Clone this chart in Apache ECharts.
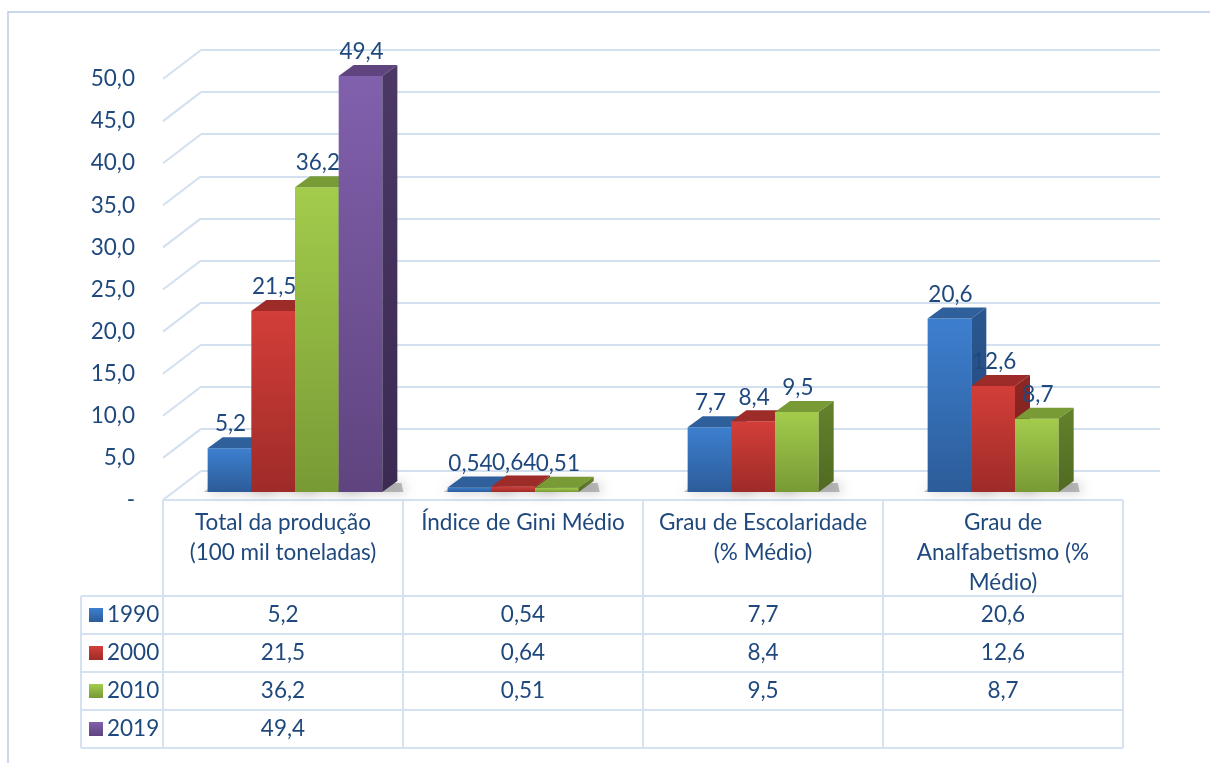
<!DOCTYPE html>
<html>
<head>
<meta charset="utf-8">
<script src="https://cdn.jsdelivr.net/npm/echarts@6/dist/echarts.min.js"></script>
<style>html,body{margin:0;padding:0;background:#fff}#c{width:1210px;height:763px}</style>
</head>
<body>
<div id="c"></div>
<script>
// ---- data ----
const categories = ['Total da produção\n(100 mil toneladas)', 'Índice de Gini Médio', 'Grau de Escolaridade\n(% Médio)', 'Grau de\nAnalfabetismo (%\nMédio)'];
const years = ['1990', '2000', '2010', '2019'];
const v1990 = [5.2, 0.54, 7.7, 20.6];
const v2000 = [21.5, 0.64, 8.4, 12.6];
const v2010 = [36.2, 0.51, 9.5, 8.7];
const v2019 = [49.4, null, null, null];
const yMin = 0, yMax = 50, yStep = 5;

const seriesValues = [v1990, v2000, v2010, v2019];
const TXT = '#1f497d';
const FONT = 'Lato';
const FS = 22.5;
const palette = [
  {front: ['#3d7fcf', '#2c5c99'], top: '#2f609c', side: ['#2a5790', '#22477a']},
  {front: ['#d33e39', '#9e2b28'], top: '#9d2b28', side: ['#8e2724', '#761f1d']},
  {front: ['#a3cc4c', '#789a35'], top: '#799b36', side: ['#64822c', '#506a22']},
  {front: ['#8160ad', '#5f447f'], top: '#5f4480', side: ['#4b3866', '#3b2a52']}
];
// layout
const GL = 163, GT = 79, GW = 960, GH = 421;
const WDX = 38, WDY = -29;   // wall depth
const FX = 12, FY = -8;      // bar front offset
const BDX = 15, BDY = -11;   // bar depth
const SLOT = 0.182;

function fmt(v) { return String(v).replace('.', ','); }

function barSeries(i) {
  const data = [];
  seriesValues[i].forEach((v, k) => { if (v != null) data.push([k, v]); });
  return {
    type: 'custom', name: years[i], xAxisIndex: 0, yAxisIndex: 0, z: 3,
    data: data,
    renderItem: function (params, api) {
      const idx = api.value(0), val = api.value(1);
      const base = api.coord([idx, 0]);
      const top = api.coord([idx, val]);
      const catW = api.size([1, 0])[0];
      const w = catW * SLOT;
      const x0 = base[0] - 2 * w + i * w + FX;
      const yb = base[1] + FY, yt = top[1] + FY;
      const c = palette[i];
      return {
        type: 'group',
        children: [
          {type: 'polygon', z2: -5, shape: {points: [[x0 - 4, yb], [x0 + w + BDX + 6, yb], [x0 + w + BDX + 4, yb + BDY + 2], [x0 + BDX - 6, yb + BDY + 2]]},
            style: {fill: 'rgba(80,80,80,0.35)', shadowBlur: 12, shadowColor: 'rgba(0,0,0,0.6)', shadowOffsetX: 2, shadowOffsetY: 0}},
          {type: 'rect', z2: 1, shape: {x: x0, y: yt, width: w, height: yb - yt},
            style: {fill: new echarts.graphic.LinearGradient(0, 0, 0, 1, [{offset: 0, color: c.front[0]}, {offset: 1, color: c.front[1]}])}},
          {type: 'polygon', z2: 1, shape: {points: [[x0, yt], [x0 + BDX, yt + BDY], [x0 + w + BDX, yt + BDY], [x0 + w, yt]]},
            style: {fill: c.top}},
          {type: 'polygon', z2: 1, shape: {points: [[x0 + w, yt], [x0 + w + BDX, yt + BDY], [x0 + w + BDX, yb + BDY], [x0 + w, yb]]},
            style: {fill: new echarts.graphic.LinearGradient(0, 0, 0, 1, [{offset: 0, color: c.side[0]}, {offset: 1, color: c.side[1]}])}},
          {type: 'text', z2: 100, style: {text: fmt(val), x: x0 + w / 2 + 1, y: yt - 24, align: 'center', verticalAlign: 'middle',
            fill: TXT, font: FS + 'px ' + FONT}}
        ]
      };
    }
  };
}

const ticks = [];
for (let v = yMin; v <= yMax; v += yStep) ticks.push([0, v]);

const chart = echarts.init(document.getElementById('c'), null, {renderer: 'canvas'});
const option = {
  animation: false,
  backgroundColor: '#fff',
  grid: [
    {left: GL, top: GT, width: GW, height: GH},
    {left: GL + WDX, top: GT + WDY, width: GW - 1, height: GH}
  ],
  xAxis: [
    {type: 'category', gridIndex: 0, data: categories, axisLine: {show: false}, axisTick: {show: false}, axisLabel: {show: false}},
    {type: 'category', gridIndex: 1, data: categories, axisLine: {show: false}, axisTick: {show: false}, axisLabel: {show: false}}
  ],
  yAxis: [
    {type: 'value', gridIndex: 0, min: yMin, max: yMax, interval: yStep, splitLine: {show: false},
      axisLine: {show: false}, axisTick: {show: false},
      axisLabel: {margin: 28, color: TXT, fontFamily: FONT, fontSize: FS,
        formatter: v => v === 0 ? '-' : v.toFixed(1).replace('.', ',')}},
    {type: 'value', gridIndex: 1, min: yMin, max: yMax, interval: yStep,
      splitLine: {show: true, lineStyle: {color: '#d3e0f0', width: 2}},
      axisLine: {show: false}, axisTick: {show: false}, axisLabel: {show: false}}
  ],
  series: [
    {
      type: 'custom', xAxisIndex: 0, yAxisIndex: 0, z: 1, silent: true, data: ticks,
      renderItem: function (params, api) {
        const p = api.coord([0, api.value(1)]);
        const x = params.coordSys.x;
        return {type: 'line', shape: {x1: x, y1: p[1], x2: x + WDX, y2: p[1] + WDY},
          style: {stroke: '#d3e0f0', lineWidth: 2}};
      }
    },
    barSeries(0), barSeries(1), barSeries(2), barSeries(3)
  ]
};
chart.setOption(option);

// ---- data table ----
const centers = categories.map((c, k) => chart.convertToPixel({xAxisIndex: 0, yAxisIndex: 0}, [k, 0]));
const colW = centers[1][0] - centers[0][0];
const tableTop = centers[0][1];
const headH = 96, rowH = 38, legL = 81;
const colLeft = centers.map(p => p[0] - colW / 2);
const tableRight = colLeft[colLeft.length - 1] + colW;
const LC = '#d5e2f2';
const els = [];
// outer frame
els.push({type: 'rect', shape: {x: 8, y: 12, width: 1300, height: 900}, style: {fill: null, stroke: '#b8cbe3', lineWidth: 1.5}, silent: true});
// horizontal lines
els.push({type: 'line', shape: {x1: colLeft[0], y1: tableTop, x2: tableRight, y2: tableTop}, style: {stroke: LC, lineWidth: 2}});
for (let r = 0; r <= years.length; r++) {
  const y = tableTop + headH + r * rowH;
  els.push({type: 'line', shape: {x1: legL, y1: y, x2: tableRight, y2: y}, style: {stroke: LC, lineWidth: 2}});
}
const tableBottom = tableTop + headH + years.length * rowH;
// vertical lines
for (let k = 0; k <= categories.length; k++) {
  const x = colLeft[0] + k * colW;
  els.push({type: 'line', shape: {x1: x, y1: tableTop, x2: x, y2: tableBottom}, style: {stroke: LC, lineWidth: 2}});
}
els.push({type: 'line', shape: {x1: legL, y1: tableTop + headH, x2: legL, y2: tableBottom}, style: {stroke: LC, lineWidth: 2}});
// headers
categories.forEach((c, k) => {
  els.push({type: 'text', style: {text: c, x: centers[k][0], y: tableTop + 8, align: 'center', verticalAlign: 'top',
    fill: TXT, font: FS + 'px ' + FONT, lineHeight: 30}});
});
// rows
years.forEach((yr, r) => {
  const cy = tableTop + headH + r * rowH + rowH / 2;
  const c = palette[r];
  els.push({type: 'rect', shape: {x: legL + 8, y: cy - 7, width: 14, height: 14},
    style: {fill: new echarts.graphic.LinearGradient(0, 0, 0, 1, [{offset: 0, color: c.front[0]}, {offset: 1, color: c.front[1]}])}});
  els.push({type: 'text', style: {text: yr, x: legL + 26, y: cy, align: 'left', verticalAlign: 'middle', fill: TXT, font: FS + 'px ' + FONT}});
  seriesValues[r].forEach((v, k) => {
    if (v == null) return;
    els.push({type: 'text', style: {text: fmt(v), x: centers[k][0], y: cy, align: 'center', verticalAlign: 'middle', fill: TXT, font: FS + 'px ' + FONT}});
  });
});
chart.setOption({graphic: {elements: els}});
</script>
</body>
</html>
